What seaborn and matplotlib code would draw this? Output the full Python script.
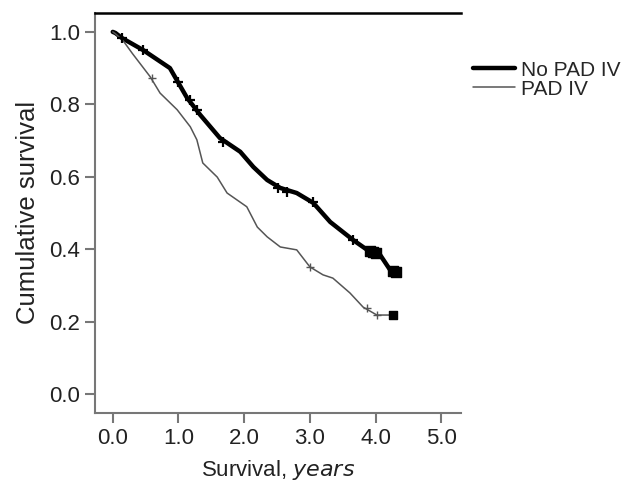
import seaborn as sns
import matplotlib.pyplot as plt
import pandas as pd

# Kaplan-Meier curves (years, cumulative survival)
no_pad_t = [0.0, 0.04, 0.14, 0.46, 0.87, 0.99, 1.13, 1.33, 1.63, 1.94, 2.14, 2.35,
            2.55, 2.80, 3.05, 3.31, 3.66, 3.92, 4.07, 4.22, 4.33]
no_pad_s = [1.0, 0.997, 0.983, 0.950, 0.900, 0.862, 0.818, 0.771, 0.707, 0.669, 0.627, 0.591,
            0.569, 0.555, 0.528, 0.475, 0.425, 0.392, 0.384, 0.343, 0.337]

pad_t = [0.0, 0.04, 0.16, 0.30, 0.57, 0.72, 0.98, 1.18, 1.28, 1.37, 1.59, 1.74, 2.04,
         2.20, 2.35, 2.55, 2.80, 3.00, 3.20, 3.35, 3.61, 3.81, 4.02, 4.33]
pad_s = [1.0, 0.995, 0.975, 0.940, 0.876, 0.831, 0.785, 0.738, 0.702, 0.638, 0.599, 0.555, 0.517,
         0.461, 0.434, 0.406, 0.398, 0.351, 0.329, 0.320, 0.279, 0.240, 0.218, 0.218]

# censored observations
no_pad_cens_t = [0.14, 0.46, 0.99, 1.18, 1.28, 1.68, 2.52, 2.65, 3.05, 3.66]
no_pad_cens_s = [0.983, 0.950, 0.862, 0.812, 0.785, 0.696, 0.569, 0.558, 0.530, 0.425]
no_pad_end_t = [3.92, 3.96, 4.00, 4.27, 4.31]
no_pad_end_s = [0.394, 0.392, 0.390, 0.339, 0.337]

pad_cens_t = [0.60, 3.00, 3.87, 4.02]
pad_cens_s = [0.873, 0.351, 0.238, 0.218]
pad_end_t = [4.27]
pad_end_s = [0.218]

no_pad = pd.DataFrame({"t": no_pad_t, "s": no_pad_s})
pad = pd.DataFrame({"t": pad_t, "s": pad_s})

sns.set_style("white")
plt.rcParams["font.family"] = ["Liberation Sans", "DejaVu Sans"]

fig = plt.figure(figsize=(6.39, 4.88), dpi=100)
ax = fig.add_axes([0.1487, 0.1537, 0.5727, 0.8203])

sns.lineplot(data=no_pad, x="t", y="s", color="black", lw=3.2, sort=False,
             estimator=None, ax=ax, label="No PAD IV")
sns.lineplot(data=pad, x="t", y="s", color="#555555", lw=1.1, sort=False,
             estimator=None, ax=ax, label="PAD IV")

ax.scatter(no_pad_cens_t, no_pad_cens_s, marker="+", s=60, color="black", lw=1.6, zorder=3)
ax.scatter(no_pad_end_t, no_pad_end_s, marker="s", s=45, color="black", zorder=3)
ax.scatter(pad_cens_t, pad_cens_s, marker="+", s=40, color="#555555", lw=1.0, zorder=3)
ax.scatter(pad_end_t, pad_end_s, marker="s", s=30, color="black", zorder=3)

ax.set_xlim(-0.27, 5.30)
ax.set_ylim(-0.0525, 1.053)
ax.set_xticks([0, 1, 2, 3, 4, 5])
ax.set_xticklabels(["0.0", "1.0", "2.0", "3.0", "4.0", "5.0"])
ax.set_yticks([0.0, 0.2, 0.4, 0.6, 0.8, 1.0])
ax.set_yticklabels(["0.0", "0.2", "0.4", "0.6", "0.8", "1.0"])
ax.tick_params(axis="both", direction="out", length=7.5, width=1.5, color="#777777",
               labelsize=16, labelcolor="#222222", pad=3)
ax.tick_params(left=True, bottom=True)

for side in ["left", "bottom"]:
    ax.spines[side].set_color("#777777")
    ax.spines[side].set_linewidth(1.5)
ax.spines["top"].set_color("black")
ax.spines["top"].set_linewidth(1.8)
ax.spines["right"].set_visible(False)

ax.set_xlabel("Survival, $\\it{years}$", fontsize=16, color="#222222", labelpad=7)
ax.set_ylabel("Cumulative survival", fontsize=18.5, color="#222222", labelpad=7)

ax.legend(loc="upper left", bbox_to_anchor=(0.741, 0.876), bbox_transform=fig.transFigure,
          frameon=False, fontsize=15, handlelength=2.0, handletextpad=0.3,
          labelspacing=0.0, borderaxespad=0, borderpad=0)

fig.savefig("out.png", dpi=100)
plt.close()
